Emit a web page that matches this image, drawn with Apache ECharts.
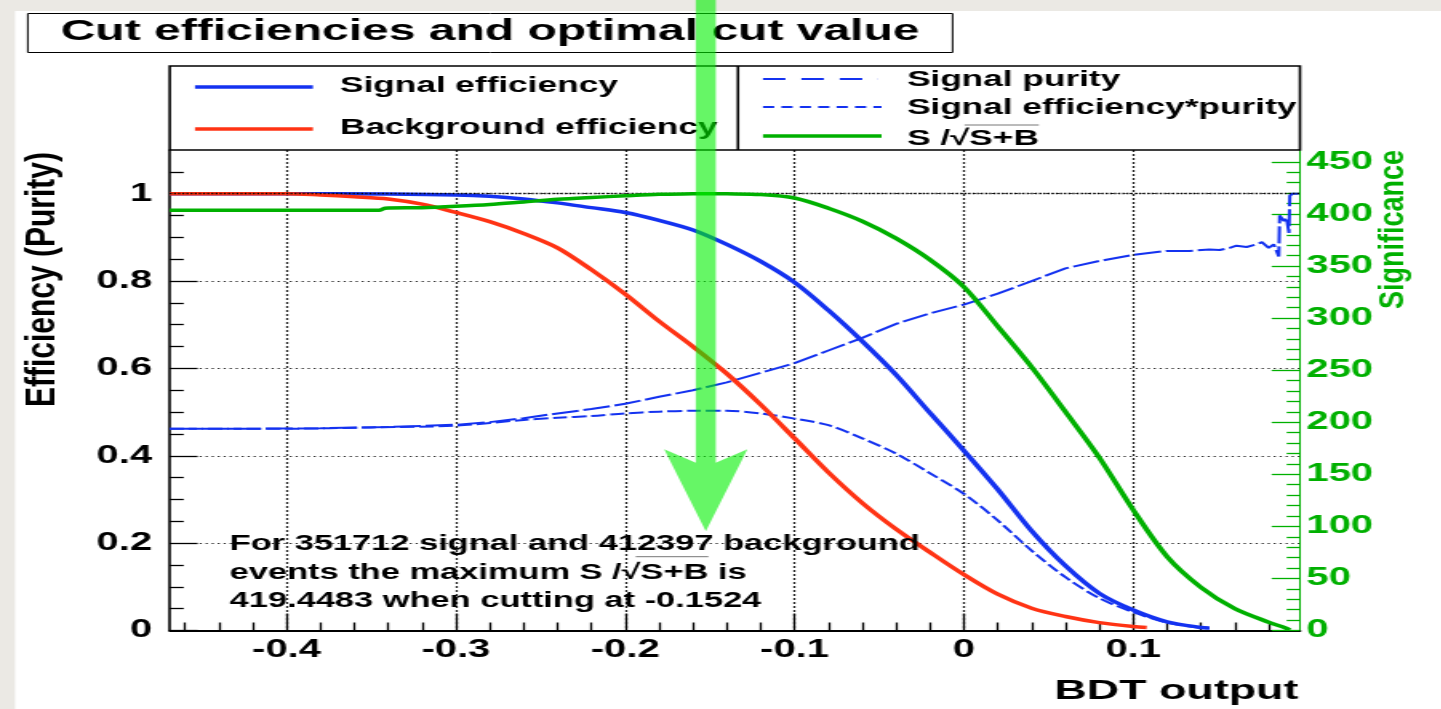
<!DOCTYPE html>
<html>
<head>
<meta charset="utf-8">
<title>Cut efficiencies and optimal cut value</title>
<script src="https://cdn.jsdelivr.net/npm/echarts@6/dist/echarts.min.js"></script>
<style>
  html, body { margin: 0; padding: 0; background: #fff; overflow: hidden; }
  /* the canvas is drawn narrow and stretched sideways, like the wide ROOT canvas */
  #stage { width: 901px; height: 709px; transform: scaleX(1.6); transform-origin: 0 0; }
</style>
</head>
<body>
<div id="stage"></div>
<script>
// ---- summary numbers of the BDT cut scan ----
const nSignal = 351712;
const nBackground = 412397;
const maxSignificance = 419.4483;
const optimalCut = -0.1524;

// ---- axis ticks ----
const xTicks = [-0.4, -0.3, -0.2, -0.1, 0, 0.1];
const xMinorTicks = [-0.46, -0.44, -0.42, -0.38, -0.36, -0.34, -0.32, -0.28, -0.26, -0.24, -0.22,
  -0.18, -0.16, -0.14, -0.12, -0.08, -0.06, -0.04, -0.02, 0.02, 0.04, 0.06, 0.08, 0.12, 0.14, 0.16, 0.18];
const effTicks = [0, 0.2, 0.4, 0.6, 0.8, 1];
const effMinorTicks = [0.05, 0.1, 0.15, 0.25, 0.3, 0.35, 0.45, 0.5, 0.55, 0.65, 0.7, 0.75, 0.85, 0.9, 0.95, 1.05];
const sigTicks = [0, 50, 100, 150, 200, 250, 300, 350, 400, 450];
const sigMinorTicks = [10, 20, 30, 40, 60, 70, 80, 90, 110, 120, 130, 140, 160, 170, 180, 190,
  210, 220, 230, 240, 260, 270, 280, 290, 310, 320, 330, 340, 360, 370, 380, 390, 410, 420, 430, 440];

// ---- signal efficiency vs cut ----
const sigEffCut = [-0.469, -0.40, -0.34, -0.30, -0.28, -0.26, -0.24, -0.22, -0.20, -0.18, -0.16, -0.14, -0.12,
  -0.10, -0.08, -0.06, -0.04, -0.02, 0.00, 0.02, 0.04, 0.06, 0.08, 0.10, 0.12, 0.14, 0.145];
const sigEff = [1.000, 1.000, 0.999, 0.997, 0.994, 0.988, 0.979, 0.968, 0.957, 0.939, 0.917, 0.884, 0.845,
  0.797, 0.733, 0.662, 0.585, 0.498, 0.412, 0.323, 0.228, 0.148, 0.085, 0.047, 0.020, 0.007, 0.006];

// ---- background efficiency vs cut ----
const bkgEffCut = [-0.469, -0.40, -0.38, -0.36, -0.34, -0.32, -0.30, -0.28, -0.26, -0.24, -0.22, -0.20, -0.18,
  -0.16, -0.14, -0.12, -0.10, -0.08, -0.06, -0.04, -0.02, 0.00, 0.02, 0.04, 0.06, 0.08, 0.10, 0.108];
const bkgEff = [1.000, 1.000, 0.997, 0.993, 0.988, 0.976, 0.957, 0.936, 0.909, 0.876, 0.826, 0.770, 0.708,
  0.650, 0.588, 0.517, 0.440, 0.362, 0.292, 0.232, 0.179, 0.128, 0.083, 0.051, 0.032, 0.018, 0.009, 0.007];

// ---- signal purity vs cut ----
const purityCut = [-0.469, -0.42, -0.38, -0.34, -0.30, -0.28, -0.26, -0.24, -0.22, -0.20, -0.18, -0.16, -0.14,
  -0.12, -0.10, -0.08, -0.06, -0.04, -0.02, 0.00, 0.02, 0.04, 0.06, 0.08, 0.10, 0.12, 0.133, 0.145, 0.151,
  0.157, 0.161, 0.167, 0.173, 0.176, 0.180, 0.183, 0.186, 0.1865, 0.189, 0.1905, 0.192, 0.1925, 0.194, 0.1985];
const purity = [0.462, 0.462, 0.463, 0.466, 0.471, 0.477, 0.486, 0.497, 0.507, 0.519, 0.535, 0.550, 0.568,
  0.590, 0.612, 0.641, 0.670, 0.702, 0.726, 0.746, 0.771, 0.800, 0.829, 0.846, 0.860, 0.869, 0.869, 0.872, 0.871,
  0.876, 0.881, 0.878, 0.884, 0.889, 0.876, 0.884, 0.856, 0.950, 0.937, 0.945, 0.910, 0.995, 1.000, 1.000];

// ---- signal efficiency * purity vs cut ----
const effPurityCut = [-0.469, -0.40, -0.35, -0.30, -0.26, -0.24, -0.22, -0.20, -0.18, -0.16, -0.14, -0.12, -0.10,
  -0.08, -0.06, -0.04, -0.02, 0.00, 0.02, 0.04, 0.06, 0.08, 0.10, 0.12, 0.14, 0.145];
const effPurity = [0.462, 0.462, 0.465, 0.469, 0.482, 0.487, 0.491, 0.497, 0.501, 0.503, 0.503, 0.497, 0.485,
  0.470, 0.440, 0.405, 0.360, 0.313, 0.252, 0.183, 0.122, 0.074, 0.042, 0.018, 0.006, 0.005];

// ---- significance S/sqrt(S+B) vs cut ----
const signifCut = [-0.469, -0.345, -0.342, -0.32, -0.30, -0.28, -0.26, -0.24, -0.22, -0.20, -0.18, -0.16,
  optimalCut, -0.14, -0.12, -0.10, -0.08, -0.06, -0.04, -0.02, 0.00, 0.02, 0.04, 0.06, 0.08, 0.10, 0.12, 0.14,
  0.16, 0.18, 0.19, 0.1925];
const significance = [403.6, 403.6, 405.5, 406.0, 407.3, 409.0, 411.5, 414.0, 415.8, 417.4, 418.8, 419.3,
  maxSignificance, 419.3, 418.6, 415.3, 405.5, 393.0, 376.5, 356.0, 330.0, 292.0, 253.0, 210.0, 166.0, 115.8,
  71.0, 41.5, 21.0, 8.0, 2.5, 0.5];

// ---- styling ----
const FONT = '"Liberation Sans", Arial, Helvetica, sans-serif';
const BLUE = '#1432f0', RED = '#ff3314', GREEN = '#00b000';
const X_MIN = -0.469, X_MAX = 0.1985;
const EFF_MAX = 1.1;
const SIG_MAX = EFF_MAX * maxSignificance;   // significance axis peak lines up with efficiency 1

function pairs(xs, ys) { return xs.map((x, i) => [x, ys[i]]); }

const chart = echarts.init(document.getElementById('stage'), null, { renderer: 'canvas', width: 901, height: 709 });

const tickLine = { color: '#000', width: 1.3 };
const greenTickLine = { color: GREEN, width: 1.3 };
const labelFont = { fontFamily: FONT, fontWeight: 'bold', fontSize: 25 };
const curve = { type: 'line', xAxisIndex: 0, symbol: 'none', smooth: 0.3 };

chart.setOption({
  animation: false,
  backgroundColor: '#fff',
  title: {
    text: 'Cut efficiencies and optimal cut value',
    left: 16.9, top: 13,
    padding: [3, 21, 6, 21],
    borderColor: '#000', borderWidth: 1, backgroundColor: '#fff',
    textStyle: { fontFamily: FONT, fontWeight: 'bold', fontSize: 30, color: '#000', lineHeight: 31 }
  },
  grid: { left: 106.1, right: 88.5, top: 150, bottom: 78.5, containLabel: false },
  xAxis: [
    {
      type: 'value', min: X_MIN, max: X_MAX, position: 'bottom',
      axisLine: { onZero: false, lineStyle: { color: '#000', width: 1.8 } },
      axisTick: { inside: true, length: 17, customValues: xTicks, lineStyle: tickLine },
      axisLabel: {
        customValues: xTicks, margin: 7, color: '#000', ...labelFont,
        formatter: v => String(Math.round(v * 10) / 10)
      },
      splitLine: { show: true, lineStyle: { color: '#222', width: 1.25, type: [2, 2] } }
    },
    {
      type: 'value', min: X_MIN, max: X_MAX, position: 'bottom',
      axisLine: { show: false, onZero: false },
      axisTick: { inside: true, length: 8, customValues: xMinorTicks, lineStyle: tickLine },
      axisLabel: { show: false },
      splitLine: { show: false }
    }
  ],
  yAxis: [
    {
      type: 'value', min: 0, max: EFF_MAX, position: 'left',
      axisLine: { onZero: false, lineStyle: { color: '#000', width: 1.6 } },
      axisTick: { inside: true, length: 17.5, customValues: effTicks, lineStyle: tickLine },
      axisLabel: { customValues: effTicks, margin: 11, color: '#000', ...labelFont, formatter: v => String(v) },
      splitLine: { show: true, lineStyle: { color: '#222', width: 1, type: [1.25, 2.5] } }
    },
    {
      type: 'value', min: 0, max: EFF_MAX, position: 'left',
      axisLine: { show: false, onZero: false },
      axisTick: { inside: true, length: 8.75, customValues: effMinorTicks, lineStyle: tickLine },
      axisLabel: { show: false },
      splitLine: { show: false }
    },
    {
      type: 'value', min: 0, max: SIG_MAX, position: 'right',
      axisLine: { show: true, onZero: false, lineStyle: { color: GREEN, width: 1 } },
      axisTick: { inside: true, length: 17.7, customValues: sigTicks, lineStyle: greenTickLine },
      axisLabel: { customValues: sigTicks, margin: 4, color: GREEN, ...labelFont, formatter: v => String(v) },
      splitLine: { show: false }
    },
    {
      type: 'value', min: 0, max: SIG_MAX, position: 'right',
      axisLine: { show: false, onZero: false },
      axisTick: { inside: true, length: 8.3, customValues: sigMinorTicks, lineStyle: greenTickLine },
      axisLabel: { show: false },
      splitLine: { show: false }
    }
  ],
  series: [
    Object.assign({}, curve, {
      name: 'Signal purity', yAxisIndex: 0, z: 2, smooth: false,
      data: pairs(purityCut, purity),
      lineStyle: { color: BLUE, width: 2, type: [17, 3] }
    }),
    Object.assign({}, curve, {
      name: 'Signal efficiency*purity', yAxisIndex: 0, z: 2,
      data: pairs(effPurityCut, effPurity),
      lineStyle: { color: BLUE, width: 2, type: [9, 3] }
    }),
    Object.assign({}, curve, {
      name: 'Signal efficiency', yAxisIndex: 0, z: 3,
      data: pairs(sigEffCut, sigEff),
      lineStyle: { color: BLUE, width: 3.5 }
    }),
    Object.assign({}, curve, {
      name: 'Background efficiency', yAxisIndex: 0, z: 4,
      data: pairs(bkgEffCut, bkgEff),
      lineStyle: { color: RED, width: 3.5 },
      markLine: {
        silent: true, symbol: 'none', label: { show: false },
        lineStyle: { color: '#000', width: 1.3, type: [1.3, 1.3] },
        data: [{ yAxis: 1 }]
      }
    }),
    Object.assign({}, curve, {
      name: 'S/sqrt(S+B)', yAxisIndex: 2, z: 5,
      data: pairs(signifCut, significance),
      lineStyle: { color: GREEN, width: 3.5 }
    })
  ]
});

// ---- text measuring for the square-root overlines ----
const measureCtx = document.createElement('canvas').getContext('2d');
function textWidth(str, size) {
  measureCtx.font = 'bold ' + size + 'px ' + FONT;
  return measureCtx.measureText(str).width;
}
function text(id, str, x, y, size, opts) {
  const o = opts || {};
  return {
    id: id, type: 'text', x: x, y: y, z: 20,
    rotation: o.rotation || 0, scaleX: o.scaleX || 1, scaleY: o.scaleY || 1,
    style: { text: str, x: 0, y: 0, fill: o.fill || '#000', font: 'bold ' + size + 'px ' + FONT,
      textAlign: o.align || 'left', textVerticalAlign: 'middle' }
  };
}
function seg(id, x1, y1, x2, y2, stroke, width, dash) {
  return { id: id, type: 'line', z: 20, shape: { x1, y1, x2, y2 },
    style: { stroke: stroke, lineWidth: width, lineDash: dash || null } };
}

const LEG_FS = 22, ANN_FS = 21.5;
const legLeftX = 212.5, legRightX = 566.9;
const sqrtLabel = 'S /\u221AS+B';
const legSqrtStart = legRightX + textWidth('S /\u221A', LEG_FS);
const legSqrtLen = textWidth('S+B', LEG_FS);

const annX = 143.6;
const annLines = [
  'For ' + nSignal + ' signal and ' + nBackground + ' background',
  'events the maximum ' + sqrtLabel + ' is',
  maxSignificance + ' when cutting at ' + optimalCut
];
const annSqrtStart = annX + textWidth('events the maximum S /\u221A', ANN_FS);
const annSqrtLen = textWidth('S+B', ANN_FS);

// ---- arrow marking the optimal cut ----
const cutX = chart.convertToPixel({ xAxisIndex: 0 }, optimalCut);
const yTip = chart.convertToPixel({ yAxisIndex: 0 }, 0.227);
const yBarb = chart.convertToPixel({ yAxisIndex: 0 }, 0.415);
const yJoin = chart.convertToPixel({ yAxisIndex: 0 }, 0.384);
const shaftHalf = 6.25, headHalf = 26;

chart.setOption({
  graphic: [
    // canvas margin
    { id: 'marginTop', type: 'rect', z: 1, shape: { x: 0, y: 0, width: 901, height: 11 }, style: { fill: '#ebe9e4' } },
    { id: 'marginLeft', type: 'rect', z: 1, shape: { x: 0, y: 0, width: 9.4, height: 709 }, style: { fill: '#ebe9e4' } },

    // legend box with two columns
    { id: 'legBox', type: 'rect', z: 19, shape: { x: 106.1, y: 66, width: 706.4, height: 84 },
      style: { fill: '#fff', stroke: '#000', lineWidth: 1.6 } },
    seg('legDivider', 461.25, 66, 461.25, 150, '#000', 1.6),
    seg('legSigEff', 121.9, 87, 195.6, 87, BLUE, 3.5),
    text('legSigEffText', 'Signal efficiency', legLeftX, 86, LEG_FS),
    seg('legBkgEff', 121.9, 129, 195.6, 129, RED, 3.5),
    text('legBkgEffText', 'Background efficiency', legLeftX, 128, LEG_FS),
    seg('legPurity', 476.9, 79, 549, 79, BLUE, 2, [14, 10]),
    text('legPurityText', 'Signal purity', legRightX, 79.5, LEG_FS),
    seg('legEffPur', 476.9, 107, 551, 107, BLUE, 2, [7, 4.5]),
    text('legEffPurText', 'Signal efficiency*purity', legRightX, 108, LEG_FS),
    seg('legSignif', 476.9, 136, 551, 136, GREEN, 3.5),
    text('legSignifText', sqrtLabel, legRightX, 138.5, LEG_FS),
    seg('legSqrtBar', legSqrtStart - 3, 125, legSqrtStart + legSqrtLen, 125, '#777', 1),

    // result summary
    text('ann1', annLines[0], annX, 544.5, ANN_FS),
    text('ann2', annLines[1], annX, 573, ANN_FS),
    text('ann3', annLines[2], annX, 601, ANN_FS),
    seg('annSqrtBar', annSqrtStart - 3, 556.7, annSqrtStart + annSqrtLen, 556.7, '#777', 1),

    // axis titles, aligned to the far end of their axes
    text('yTitle', 'Efficiency (Purity)', 26.6, 152, 30,
      { rotation: Math.PI / 2, scaleY: 0.85, align: 'right' }),
    text('y2Title', 'Significance', 870.9, 150, 27,
      { rotation: Math.PI / 2, scaleY: 0.82, align: 'right', fill: GREEN }),
    text('xTitle', 'BDT output', 811.5, 691.5, 28, { align: 'right' }),

    // arrow at the optimal cut
    { id: 'cutArrow', type: 'polygon', z: 50,
      shape: { points: [
        [cutX - shaftHalf, 0], [cutX - shaftHalf, yJoin], [cutX - headHalf, yBarb], [cutX, yTip],
        [cutX + headHalf, yBarb], [cutX + shaftHalf, yJoin], [cutX + shaftHalf, 0]
      ] },
      style: { fill: 'rgba(0,240,0,0.6)' } }
  ]
});
</script>
</body>
</html>
